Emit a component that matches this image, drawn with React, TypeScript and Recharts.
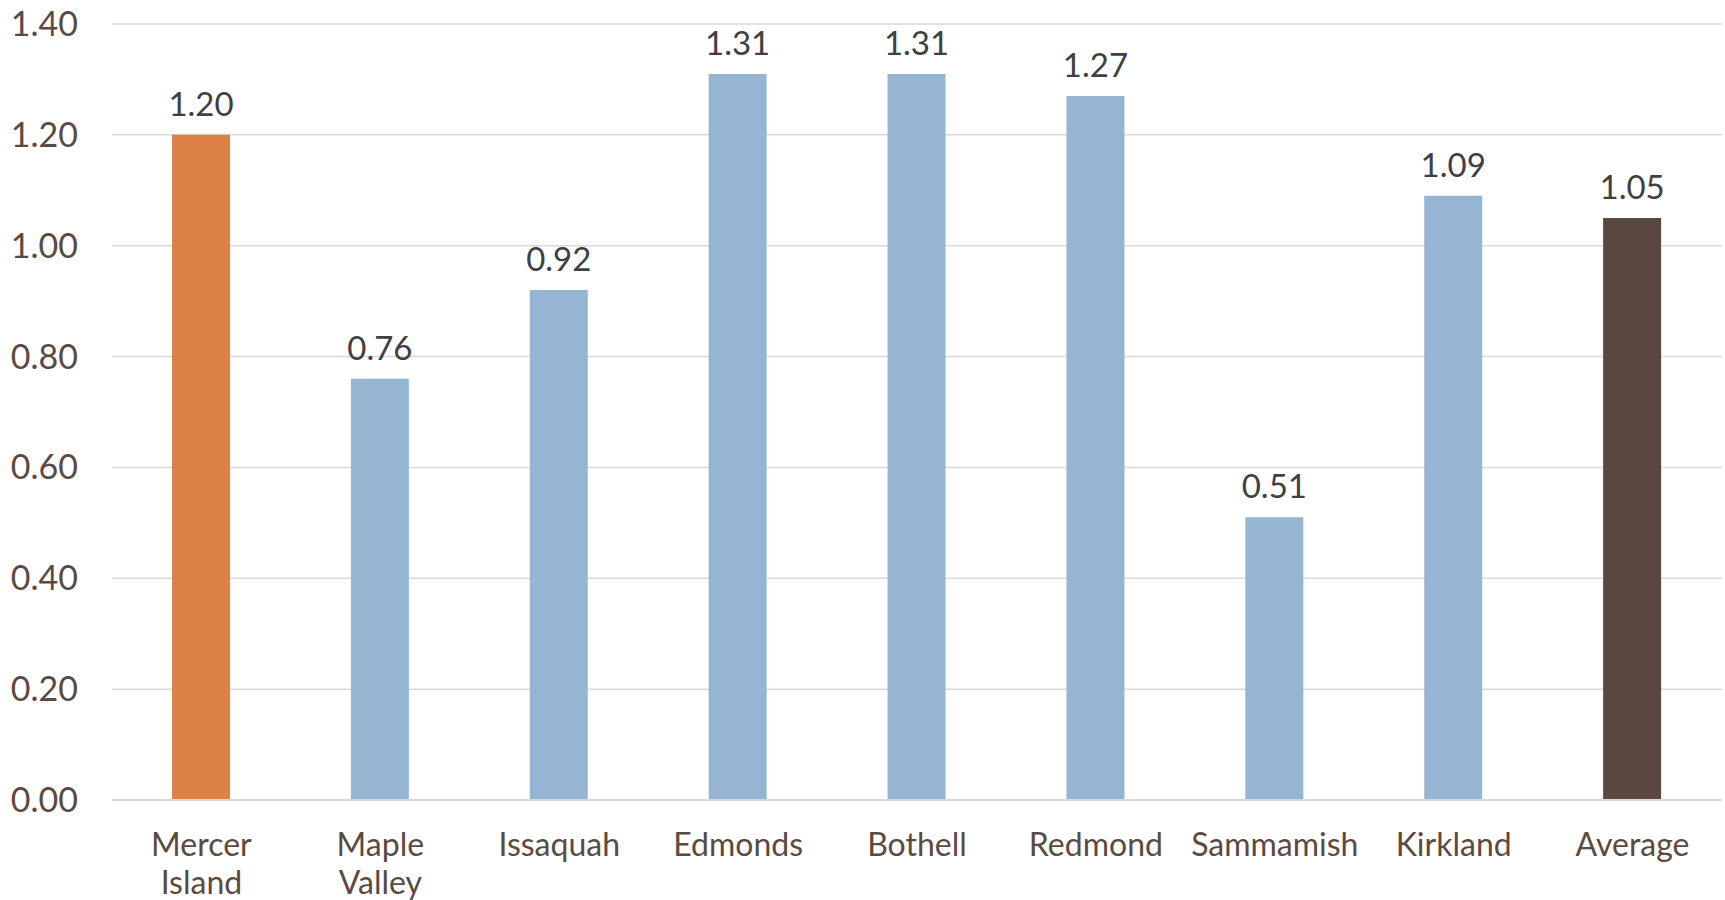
import { BarChart, Bar, XAxis, YAxis, CartesianGrid, Cell, LabelList } from "recharts";

const cities = ["Mercer Island", "Maple Valley", "Issaquah", "Edmonds", "Bothell", "Redmond", "Sammamish", "Kirkland", "Average"];
const ratios = [1.2, 0.76, 0.92, 1.31, 1.31, 1.27, 0.51, 1.09, 1.05];
const barColors = ["#DE8146", "#95B5D3", "#95B5D3", "#95B5D3", "#95B5D3", "#95B5D3", "#95B5D3", "#95B5D3", "#5A4840"];
const yTicks = [0, 0.2, 0.4, 0.6, 0.8, 1.0, 1.2, 1.4];

const FONT = "Lato, 'Open Sans', sans-serif";
const AXIS_COLOR = "#5A4A42";

function CityTick(props: any) {
    const { x, y, payload } = props;
    const words = String(payload.value).split(" ");
    return (
        <text x={x} y={y} textAnchor="middle" fill={AXIS_COLOR} fontSize={32} fontFamily={FONT}>
            {words.map((w, i) => (
                <tspan key={i} x={x} dy={i === 0 ? 48 : 38}>{w}</tspan>
            ))}
        </text>
    );
}

export default function App() {
    const data = cities.map((c, i) => ({ city: c, value: ratios[i] }));

    return (
        <div style={{ position: "absolute", left: 0, top: 0, width: 1725, height: 900, background: "#fff" }}>
            <BarChart width={1725} height={900} data={data} margin={{ top: 24, right: 3, left: 0, bottom: 0 }}>
                <CartesianGrid vertical={false} stroke="#D9D9D9" strokeWidth={1.5} />
                <XAxis
                    dataKey="city"
                    interval={0}
                    tick={<CityTick />}
                    tickLine={false}
                    axisLine={{ stroke: "#D9D9D9", strokeWidth: 2 }}
                    height={100}
                />
                <YAxis
                    domain={[0, 1.4]}
                    ticks={yTicks}
                    tickFormatter={(v) => v.toFixed(2)}
                    width={112}
                    tickSize={0}
                    tickMargin={34}
                    axisLine={false}
                    tickLine={false}
                    tick={{ fill: AXIS_COLOR, fontSize: 34, fontFamily: FONT }}
                />
                <Bar dataKey="value" barSize={58} isAnimationActive={false}>
                    {data.map((d, i) => (
                        <Cell key={d.city} fill={barColors[i]} />
                    ))}
                    <LabelList
                        dataKey="value"
                        position="top"
                        offset={19}
                        formatter={(v: any) => Number(v).toFixed(2)}
                        style={{ fill: "#404040", fontSize: 33, fontFamily: FONT }}
                    />
                </Bar>
            </BarChart>
        </div>
    );
}
